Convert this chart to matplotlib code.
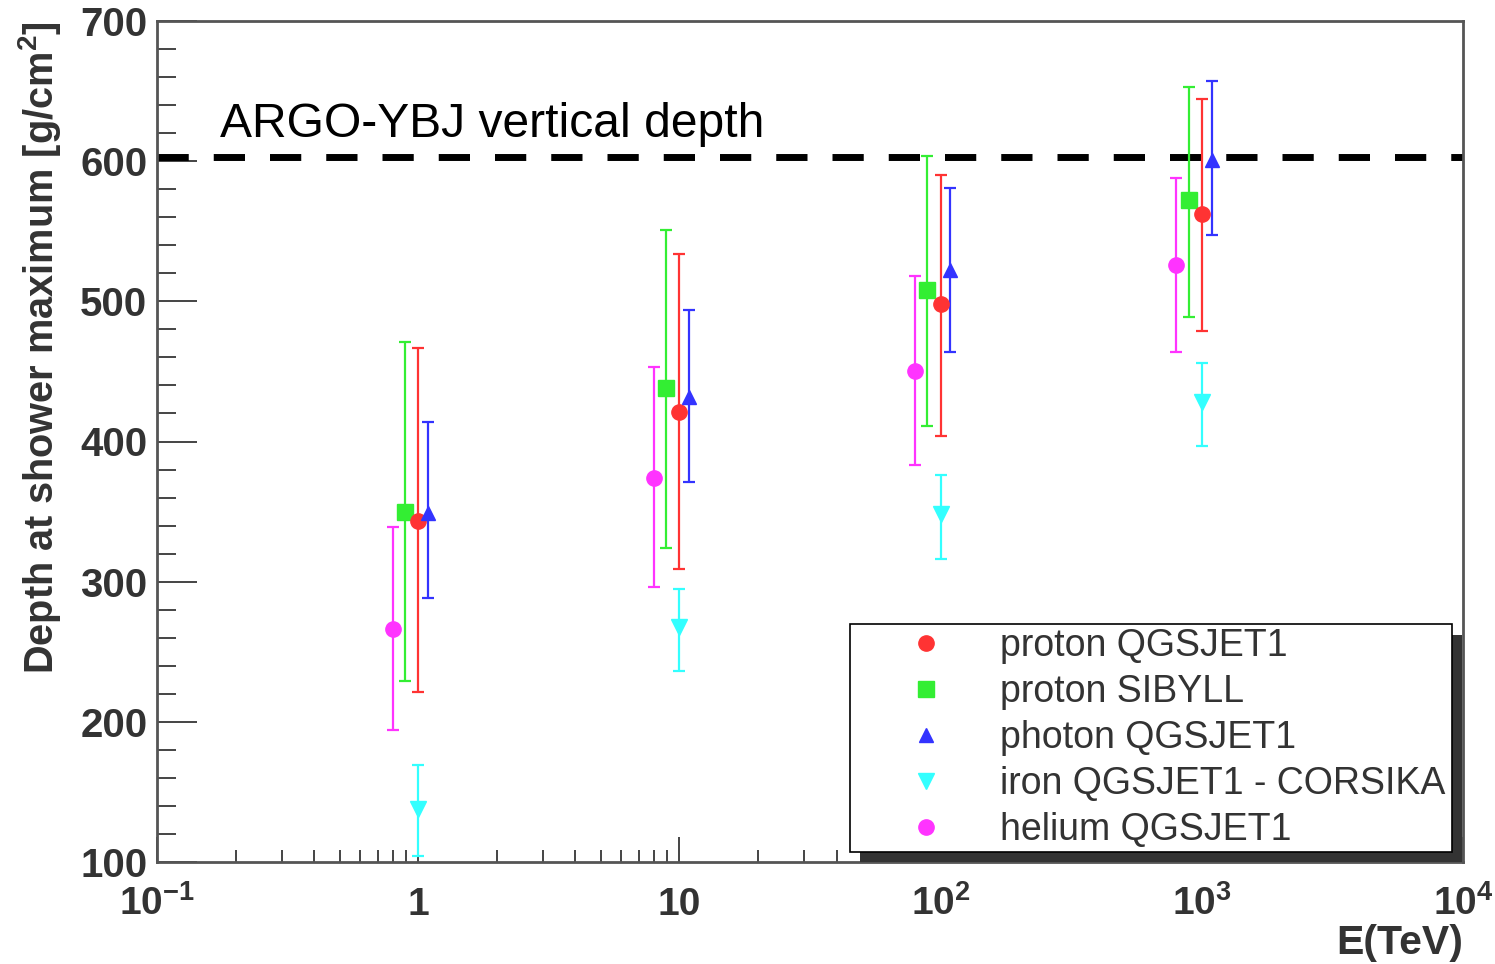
import matplotlib
matplotlib.use("Agg")
import matplotlib.pyplot as plt
from matplotlib.patches import Rectangle
from matplotlib.ticker import FixedLocator, NullFormatter
import numpy as np

plt.rcParams['font.family'] = ['Liberation Sans', 'DejaVu Sans']
plt.rcParams['mathtext.fontset'] = 'custom'
plt.rcParams['mathtext.rm'] = 'Liberation Sans:bold'
plt.rcParams['mathtext.it'] = 'Liberation Sans:bold'
plt.rcParams['mathtext.bf'] = 'Liberation Sans:bold'
plt.rcParams['mathtext.default'] = 'rm'

# energies (TeV) at which each sample is plotted (slightly shifted for visibility)
E_proton_qgs = [1.0, 10.0, 100.0, 1000.0]
E_proton_sib = [0.89, 8.9, 89.0, 890.0]
E_photon = [1.09, 10.9, 109.0, 1090.0]
E_iron = [1.0, 10.0, 100.0, 1000.0]
E_helium = [0.8, 8.0, 80.0, 800.0]

# depth at shower maximum [g/cm2]: mean, upper and lower end of the bar
proton_qgs = [343, 421, 498, 562]
proton_qgs_hi = [467, 534, 590, 644]
proton_qgs_lo = [221, 309, 404, 479]

proton_sib = [350, 438, 508, 572]
proton_sib_hi = [471, 551, 604, 653]
proton_sib_lo = [229, 324, 411, 489]

photon = [349, 432, 522, 601]
photon_hi = [414, 494, 581, 657]
photon_lo = [288, 371, 464, 547]

iron = [138, 268, 348, 428]
iron_hi = [169, 295, 376, 456]
iron_lo = [104, 236, 316, 397]

helium = [266, 374, 450, 526]
helium_hi = [339, 453, 518, 588]
helium_lo = [194, 296, 383, 464]

argo_depth = 603

xtick_vals = [0.1, 1, 10, 100, 1000, 10000]
xtick_labels = ['$10^{-1}$', '1', '10', '$10^{2}$', '$10^{3}$', '$10^{4}$']

fig = plt.figure(figsize=(14.95, 9.64), dpi=100)
ax = fig.add_axes([157/1495, 1-862/964, 1306/1495, 841/964])


def serie(x, y, hi, lo, color, marker, ms, z):
    y = np.array(y, dtype=float)
    err = [y - np.array(lo), np.array(hi) - y]
    c = ax.errorbar(x, y, yerr=err, fmt=marker, color=color, ms=ms, mec=color,
                    capsize=4.5, elinewidth=1.6, capthick=1.6, zorder=z)
    return c[0]


h_he = serie(E_helium, helium, helium_hi, helium_lo, '#ff33ff', 'o', 11, 3)
h_sib = serie(E_proton_sib, proton_sib, proton_sib_hi, proton_sib_lo, '#33ee33', 's', 11, 3.1)
h_qgs = serie(E_proton_qgs, proton_qgs, proton_qgs_hi, proton_qgs_lo, '#ff3333', 'o', 11, 3.2)
h_ph = serie(E_photon, photon, photon_hi, photon_lo, '#3333ff', '^', 10, 3.3)
h_fe = serie(E_iron, iron, iron_hi, iron_lo, '#33ffff', 'v', 11, 3.4)

ax.axhline(argo_depth, color='black', lw=5, dashes=(4.5, 3.6), zorder=2)
ax.text(0.175, 617, 'ARGO-YBJ vertical depth', fontsize=34.6, color='black',
        va='baseline', ha='left')

ax.set_xscale('log')
ax.set_xlim(0.1, 1e4)
ax.set_ylim(100, 700)

ax.xaxis.set_major_locator(FixedLocator(xtick_vals))
ax.set_xticklabels(xtick_labels)
ax.xaxis.set_minor_locator(FixedLocator([m * 10.0**d for d in range(-1, 4) for m in range(2, 10)]))
ax.xaxis.set_minor_formatter(NullFormatter())
ax.set_yticks(np.arange(100, 701, 100))
ax.set_yticks(np.arange(100, 701, 20), minor=True)

for s in ax.spines.values():
    s.set_color('#555555')
    s.set_linewidth(2)

ax.tick_params(axis='y', which='major', direction='in', length=29, width=1.4,
               color='#444444', labelsize=29, labelcolor='#333333', pad=7,
               right=False)
ax.tick_params(axis='y', which='minor', direction='in', length=14, width=1.4,
               color='#444444', right=False)
ax.tick_params(axis='x', which='major', direction='in', length=18, width=1.4,
               color='#444444', labelsize=28, labelcolor='#333333', pad=38,
               top=False)
ax.tick_params(axis='x', which='minor', direction='in', length=8.6, width=1.4,
               color='#444444', top=False)
for t in ax.get_xticklabels() + ax.get_yticklabels():
    t.set_fontweight('bold')
for t in ax.get_xticklabels():
    t.set_verticalalignment('baseline')

ax.set_ylabel('Depth at shower maximum [g/cm$^{2}$]', fontsize=28.6,
              fontweight='bold', color='#333333', loc='top')
ax.yaxis.set_label_coords(-0.072, 1.0)
ax.set_xlabel('E(TeV)', fontsize=29.5, fontweight='bold', color='#333333', loc='right')
ax.xaxis.set_label_coords(1.0, -0.074)

# legend with its drop shadow
ax.add_patch(Rectangle((0.5383, 0.0), 0.4609, 0.2699, transform=ax.transAxes,
                       facecolor='#333333', edgecolor='none', zorder=4.5, clip_on=False))
leg = ax.legend([h_qgs, h_sib, h_ph, h_fe, h_he],
                ['proton QGSJET1', 'proton SIBYLL', 'photon QGSJET1',
                 'iron QGSJET1 - CORSIKA', 'helium QGSJET1'],
                loc='lower left', bbox_to_anchor=(0.5306, 0.0119, 0.461, 0.27),
                mode='expand', fontsize=27, numpoints=1, fancybox=False,
                framealpha=1, edgecolor='black', borderaxespad=0, borderpad=0.1,
                labelspacing=0.27, handlelength=3.85, handletextpad=0.05)
leg.get_frame().set_linewidth(1.2)
leg.set_zorder(5)
for t in leg.get_texts():
    t.set_color('#333333')

fig.savefig('out.png', dpi=100)
